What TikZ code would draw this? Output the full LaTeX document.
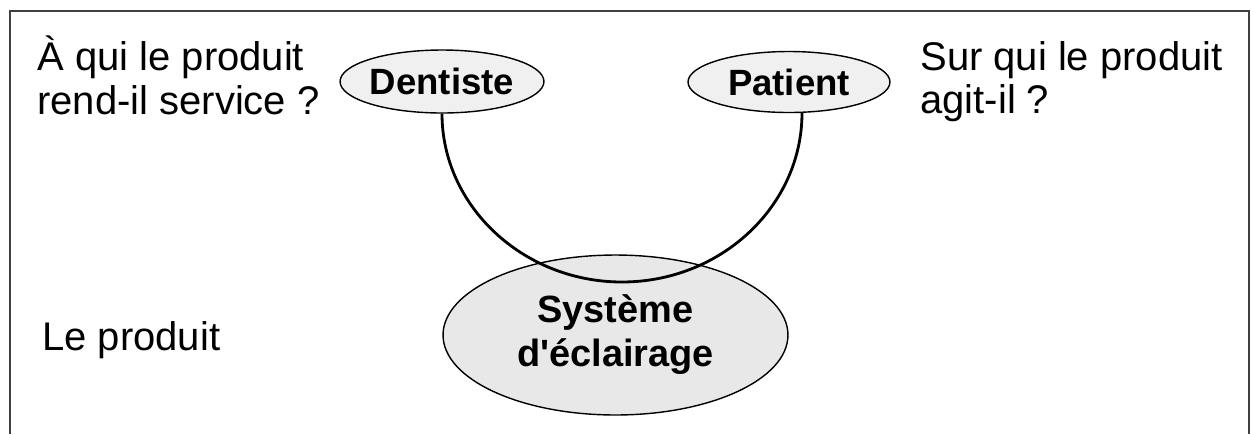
\documentclass[tikz,border=0pt]{standalone}
\usepackage{fontspec}
\setmainfont{Liberation Sans}
\newfontfamily\plainsans{Liberation Sans}
\usetikzlibrary{shapes.geometric}
\begin{document}
\begin{tikzpicture}[x=0.02cm,y=-0.02cm,
  lbl/.style={anchor=base west, inner sep=0, font=\fontsize{22.76pt}{25pt}\selectfont},
  ell/.style={ellipse, draw, line width=0.8pt, fill=gray!12, inner sep=0,
    font=\plainsans\bfseries\fontsize{20.8pt}{24pt}\selectfont},
  link/.style={line width=1.6pt},
  frame/.style={line width=1pt, black!75}]
\useasboundingbox (0,0) rectangle (1251,434);
\draw[frame] (10,434) -- (10,11) -- (1249,11) -- (1249,434);
% labels
\node[lbl] (q1a) at (37,70) {À qui le produit};
\node[lbl] (q1b) at (37,114) {rend-il service ?};
\node[lbl] (q2a) at (920,70) {Sur qui le produit};
\node[lbl] (q2b) at (920,113) {agit-il ?};
\node[lbl] (prod) at (42,350) {Le produit};
% nodes
\node[ell, minimum width=4.02cm, minimum height=1.26cm] (D) at (442,81.5) {Dentiste};
\node[ell, minimum width=4.04cm, minimum height=1.22cm] (P) at (789,82) {Patient};
\node[ell, fill=gray!18, minimum width=6.9cm, minimum height=3.2cm, align=center,
  font=\plainsans\bfseries\fontsize{21.6pt}{25pt}\selectfont] (S) at (615.5,335) {Système\\d'éclairage};
% connector
\coordinate (pe) at (802,113);
\coordinate (bot) at (622,282);
\draw[link] (D.south) .. controls (442,206) and (523,282) .. (bot)
  .. controls (721,282) and (802,206) .. (pe);
\end{tikzpicture}
\end{document}
